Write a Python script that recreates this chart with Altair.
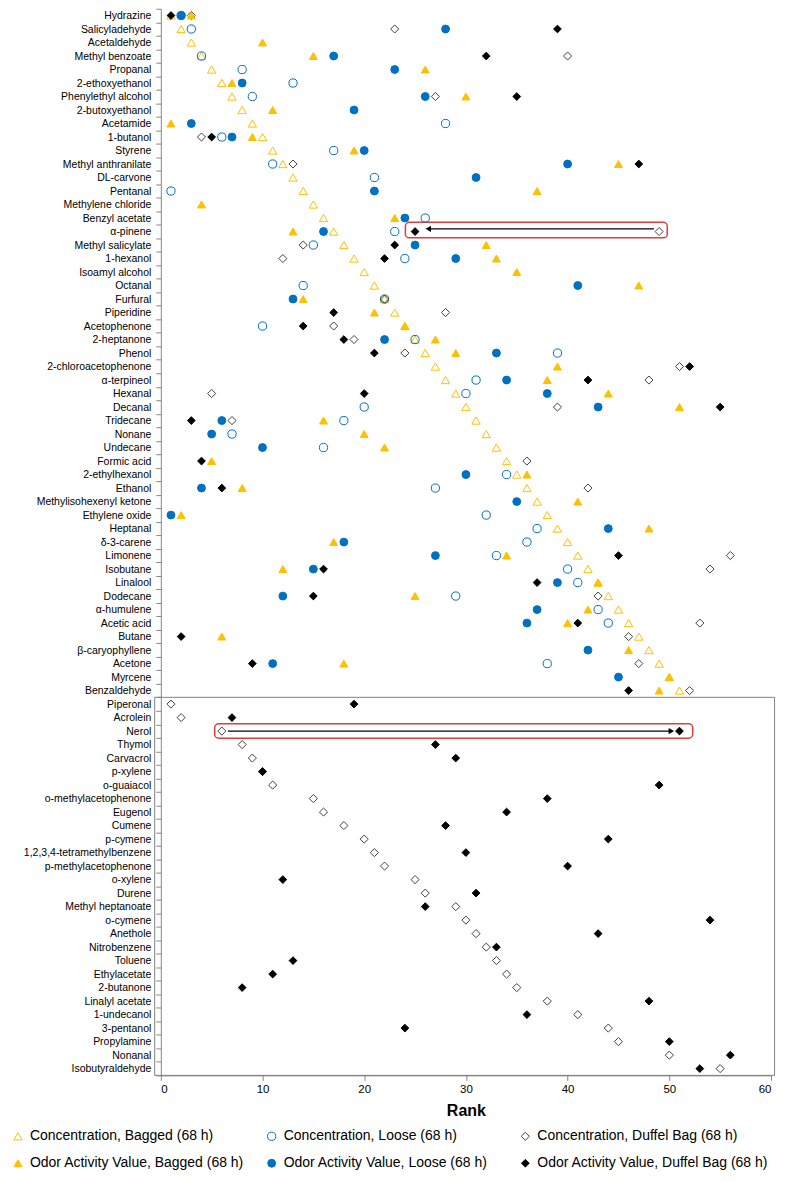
import altair as alt
import pandas as pd

N = None

compounds = [
    "Hydrazine", "Salicyladehyde", "Acetaldehyde", "Methyl benzoate", "Propanal",
    "2-ethoxyethanol", "Phenylethyl alcohol", "2-butoxyethanol", "Acetamide", "1-butanol",
    "Styrene", "Methyl anthranilate", "DL-carvone", "Pentanal", "Methylene chloride",
    "Benzyl acetate", "α-pinene", "Methyl salicylate", "1-hexanol", "Isoamyl alcohol",
    "Octanal", "Furfural", "Piperidine", "Acetophenone", "2-heptanone",
    "Phenol", "2-chloroacetophenone", "α-terpineol", "Hexanal", "Decanal",
    "Tridecane", "Nonane", "Undecane", "Formic acid", "2-ethylhexanol",
    "Ethanol", "Methylisohexenyl ketone", "Ethylene oxide", "Heptanal", "δ-3-carene",
    "Limonene", "Isobutane", "Linalool", "Dodecane", "α-humulene",
    "Acetic acid", "Butane", "β-caryophyllene", "Acetone", "Myrcene",
    "Benzaldehyde", "Piperonal", "Acrolein", "Nerol", "Thymol",
    "Carvacrol", "p-xylene", "o-guaiacol", "o-methylacetophenone", "Eugenol",
    "Cumene", "p-cymene", "1,2,3,4-tetramethylbenzene", "p-methylacetophenone", "o-xylene",
    "Durene", "Methyl heptanoate", "o-cymene", "Anethole", "Nitrobenzene",
    "Toluene", "Ethylacetate", "2-butanone", "Linalyl acetate", "1-undecanol",
    "3-pentanol", "Propylamine", "Nonanal", "Isobutyraldehyde",
]

series_names = [
    "Concentration, Bagged (68 h)",
    "Concentration, Loose (68 h)",
    "Concentration, Duffel Bag (68 h)",
    "Odor Activity Value, Bagged (68 h)",
    "Odor Activity Value, Loose (68 h)",
    "Odor Activity Value, Duffel Bag (68 h)",
]

conc_bagged = [
    1, 2, 3, 4, 5, 6, 7, 8, 9, 10,
    11, 12, 13, 14, 15, 16, 17, 18, 19, 20,
    21, 22, 23, 24, 25, 26, 27, 28, 29, 30,
    31, 32, 33, 34, 35, 36, 37, 38, 39, 40,
    41, 42, 43, 44, 45, 46, 47, 48, 49, 50,
    51, N, N, N, N, N, N, N, N, N,
    N, N, N, N, N, N, N, N, N, N,
    N, N, N, N, N, N, N, N, N,
]
conc_loose = [
    2, 3, N, 4, 8, 13, 9, N, 28, 6,
    17, 11, 21, 1, N, 26, 23, 15, 24, N,
    14, 22, N, 10, 25, 39, N, 31, 30, 20,
    18, 7, 16, N, 34, 27, N, 32, 37, 36,
    33, 40, 41, 29, 43, 44, N, N, 38, N,
    N, N, N, N, N, N, N, N, N, N,
    N, N, N, N, N, N, N, N, N, N,
    N, N, N, N, N, N, N, N, N,
]
conc_duffel = [
    3, 23, N, 40, N, N, 27, N, N, 4,
    N, 13, N, N, N, N, 49, 14, 12, N,
    N, 22, 28, 17, 19, 24, 51, 48, 5, 39,
    7, N, N, 36, N, 42, N, N, N, N,
    56, 54, N, 43, N, 53, 46, N, 47, N,
    52, 1, 2, 6, 8, 9, 10, 11, 15, 16,
    18, 20, 21, 22, 25, 26, 29, 30, 31, 32,
    33, 34, 35, 38, 41, 44, 45, 50, 55,
]
oav_bagged = [
    3, N, 10, 15, 26, 7, 30, 11, 1, 9,
    19, 45, N, 37, 4, 23, 13, 32, 33, 35,
    47, 14, 21, 24, 27, 29, 39, 38, 44, 51,
    16, 20, 22, 5, 36, 8, 41, 2, 48, 17,
    34, 12, 43, 25, 42, 40, 6, 46, 18, 50,
    49, N, N, N, N, N, N, N, N, N,
    N, N, N, N, N, N, N, N, N, N,
    N, N, N, N, N, N, N, N, N,
]
oav_loose = [
    2, 28, N, 17, 23, 8, 26, 19, 3, 7,
    20, 40, 31, 21, N, 24, 16, 25, 29, N,
    41, 13, N, N, 22, 33, N, 34, 38, 43,
    6, 5, 10, N, 30, 4, 35, 1, 44, 18,
    27, 15, 39, 12, 37, 36, N, 42, 11, 45,
    N, N, N, N, N, N, N, N, N, N,
    N, N, N, N, N, N, N, N, N, N,
    N, N, N, N, N, N, N, N, N,
]
oav_duffel = [
    1, 39, N, 32, N, N, 35, N, N, 5,
    N, 47, N, N, N, N, 25, 23, 22, N,
    N, N, 17, 14, 18, 21, 52, 42, 20, 55,
    3, N, N, 4, N, 6, N, N, N, N,
    45, 16, 37, 15, N, 41, 2, N, 9, N,
    46, 19, 7, 51, 27, 29, 10, 49, 38, 34,
    28, 44, 30, 40, 12, 31, 26, 54, 43, 33,
    13, 11, 8, 48, 36, 24, 50, 56, 53,
]

# annotation values (rank units / row units, row k occupies [k-1, k])
highlight_x_start = [24.05, 5.3]
highlight_x_end = [49.8, 52.3]
highlight_y_top = [15.82, 52.96]
highlight_y_bottom = [16.97, 54.03]
arrow_from = [48.5, 6.6]
arrow_to = [26.3, 50.2]
arrow_y = [16.3, 53.5]
arrow_dir = ["left", "right"]
panel_x = [-0.6, 60.35]
panel_y = [51.0, 79.0]

all_series = [conc_bagged, conc_loose, conc_duffel, oav_bagged, oav_loose, oav_duffel]
records = []
for s_name, values in zip(series_names, all_series):
    for comp, v in zip(compounds, values):
        if v is not None:
            records.append({"compound": comp, "series": s_name, "rank": v})
points_df = pd.DataFrame(records)
points_df["order"] = points_df["series"].map({s: i for i, s in enumerate(series_names)})

hl_df = pd.DataFrame({"x": highlight_x_start, "x2": highlight_x_end,
                      "y": highlight_y_top, "y2": highlight_y_bottom})
arrow_df = pd.DataFrame({"x": arrow_from, "x2": arrow_to, "y": arrow_y, "dir": arrow_dir})
panel_df = pd.DataFrame({"x": [panel_x[0]], "x2": [panel_x[1]],
                         "y": [panel_y[0]], "y2": [panel_y[1]]})

FONT = "Liberation Sans"
AXIS_GRAY = "#868686"

x_scale = alt.Scale(domain=[0, 60], nice=False, zero=True)
yq_scale = alt.Scale(domain=[0, 79], reverse=True, nice=False, zero=False)

shapes = ["triangle-up", "circle", "diamond", "triangle-up", "circle", "diamond"]
strokes = ["#FFC000", "#0070C0", "#404040", "#FFC000", "#0070C0", "#000000"]
fills = ["transparent", "transparent", "transparent", "#FFC000", "#0070C0", "#000000"]
sizes = [70, 60, 90, 70, 60, 110]

legend = alt.Legend(
    title=None, orient="none", legendX=-150, legendY=1122, columns=3,
    columnPadding=3, rowPadding=13, labelFont=FONT, labelFontSize=14,
    labelColor="black", symbolStrokeWidth=1, labelOffset=5, direction="horizontal",
    labelLimit=400, gridAlign="all",
)

points = alt.Chart(points_df).mark_point(filled=False, strokeWidth=1, opacity=1).encode(
    x=alt.X("rank:Q", scale=x_scale,
            axis=alt.Axis(values=[0, 10, 20, 30, 40, 50, 60], grid=False, title="Rank",
                          titleFont=FONT, titleFontSize=16, titleFontWeight="bold",
                          titleColor="black", labelFont=FONT, labelFontSize=11.5,
                          labelColor="black", tickSize=5, tickColor=AXIS_GRAY,
                          domainColor=AXIS_GRAY, labelPadding=3, titlePadding=8)),
    y=alt.Y("compound:N", sort=compounds,
            scale=alt.Scale(type="band", paddingInner=0, paddingOuter=0),
            axis=alt.Axis(title=None, tickBand="extent", labelFont=FONT, labelFontSize=10.5,
                          labelColor="black", tickSize=5, tickColor=AXIS_GRAY,
                          domainColor=AXIS_GRAY, labelPadding=5, labelOverlap=False,
                          grid=False)),
    shape=alt.Shape("series:N", scale=alt.Scale(domain=series_names, range=shapes), legend=legend),
    stroke=alt.Stroke("series:N", scale=alt.Scale(domain=series_names, range=strokes), legend=legend),
    fill=alt.Fill("series:N", scale=alt.Scale(domain=series_names, range=fills), legend=legend),
    size=alt.Size("series:N", scale=alt.Scale(domain=series_names, range=sizes), legend=legend),
    order=alt.Order("order:Q"),
)

panel = alt.Chart(panel_df).mark_rect(filled=False, stroke="#808080", strokeWidth=1).encode(
    x=alt.X("x:Q", scale=x_scale), x2="x2:Q",
    y=alt.Y("y:Q", scale=yq_scale, axis=None), y2="y2:Q",
)

highlight = alt.Chart(hl_df).mark_rect(filled=False, stroke="#E03C3C", strokeWidth=1.5,
                                       cornerRadius=4).encode(
    x=alt.X("x:Q", scale=x_scale), x2="x2:Q",
    y=alt.Y("y:Q", scale=yq_scale, axis=None), y2="y2:Q",
)

arrow_line = alt.Chart(arrow_df).mark_rule(color="black", strokeWidth=1.2).encode(
    x=alt.X("x:Q", scale=x_scale), x2="x2:Q",
    y=alt.Y("y:Q", scale=yq_scale, axis=None),
)

head_left = alt.Chart(arrow_df).transform_filter(alt.datum.dir == "left").mark_point(
    filled=True, color="black", size=40, opacity=1, shape="triangle-left").encode(
    x=alt.X("x2:Q", scale=x_scale),
    y=alt.Y("y:Q", scale=yq_scale, axis=None),
)
head_right = alt.Chart(arrow_df).transform_filter(alt.datum.dir == "right").mark_point(
    filled=True, color="black", size=40, opacity=1, shape="triangle-right").encode(
    x=alt.X("x2:Q", scale=x_scale),
    y=alt.Y("y:Q", scale=yq_scale, axis=None),
)

annotations = alt.layer(panel, highlight, arrow_line, head_left, head_right)

chart = alt.layer(annotations, points).resolve_scale(
    y="independent"
).properties(
    width=611, height=1068,
    autosize=alt.AutoSizeParams(type="none"),
    padding={"left": 153, "top": 0, "right": 8, "bottom": 96},
).configure_view(stroke=None)

chart.save("out.html", embed_options={"renderer": "svg", "actions": False})
